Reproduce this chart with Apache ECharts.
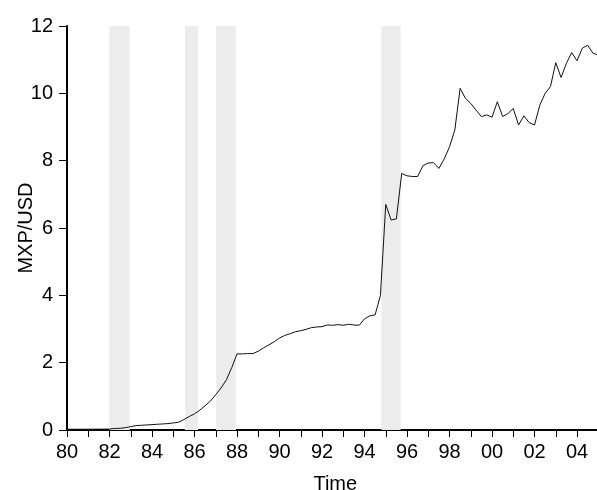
<!DOCTYPE html>
<html>
<head>
<meta charset="utf-8">
<script src="https://cdn.jsdelivr.net/npm/echarts@6/dist/echarts.min.js"></script>
<style>html,body{margin:0;padding:0;background:#fff;}#c{width:597px;height:490px;}</style>
</head>
<body>
<div id="c"></div>
<script>
// Quarterly MXP/USD exchange rate, first observation 1980Q1
var startYear = 1980;
var mxpUsd = [
  0.023, 0.023, 0.023, 0.023,   // 1980
  0.024, 0.024, 0.025, 0.026,   // 1981
  0.027, 0.045, 0.05, 0.07,     // 1982
  0.10, 0.13, 0.14, 0.15,       // 1983
  0.16, 0.17, 0.18, 0.19,       // 1984
  0.21, 0.23, 0.31, 0.40,       // 1985
  0.48, 0.59, 0.72, 0.86,       // 1986
  1.05, 1.25, 1.49, 1.85,       // 1987
  2.26, 2.26, 2.27, 2.27,       // 1988
  2.34, 2.44, 2.53, 2.62,       // 1989
  2.73, 2.81, 2.86, 2.92,       // 1990
  2.95, 2.99, 3.04, 3.06,       // 1991
  3.07, 3.12, 3.11, 3.13,       // 1992
  3.11, 3.14, 3.12, 3.11,       // 1993
  3.30, 3.39, 3.42, 4.00,       // 1994
  6.70, 6.24, 6.27, 7.62,       // 1995
  7.55, 7.53, 7.53, 7.85,       // 1996
  7.93, 7.94, 7.77, 8.05,       // 1997
  8.41, 8.91, 10.15, 9.85,      // 1998
  9.70, 9.50, 9.31, 9.36,       // 1999
  9.29, 9.75, 9.31, 9.40,       // 2000
  9.55, 9.06, 9.33, 9.13,       // 2001
  9.06, 9.65, 10.00, 10.20,     // 2002
  10.91, 10.47, 10.89, 11.21,   // 2003
  10.97, 11.34, 11.43, 11.19,   // 2004
  11.14                         // 2005
];
// shaded periods [start, end] in fractional years
var shadeStart = [1982.0, 1985.55, 1987.02, 1994.8];
var shadeEnd   = [1982.95, 1986.17, 1987.95, 1995.7];
var yTicks = [0, 2, 4, 6, 8, 10, 12];

var points = mxpUsd.map(function (v, i) { return [startYear + i / 4, v]; });
var bands = shadeStart.map(function (s, i) {
  return [{ xAxis: s }, { xAxis: shadeEnd[i] }];
});

var xMin = 1980, xMax = 2005.25;
var pxPerYear = 21.25;
var font = '"Liberation Sans", Arial, sans-serif';

var chart = echarts.init(document.getElementById('c'), null, { renderer: 'canvas' });
chart.setOption({
  animation: false,
  backgroundColor: '#fff',
  grid: { left: 67, top: 26, height: 404, width: (xMax - xMin) * pxPerYear, containLabel: false, outerBoundsMode: 'none' },
  xAxis: [{
    type: 'value', min: xMin, max: xMax, interval: 1,
    name: 'Time', nameLocation: 'middle', nameGap: 44,
    nameTextStyle: { fontFamily: font, fontSize: 20, color: '#000' },
    axisLine: { show: true, onZero: false, lineStyle: { color: '#000', width: 2 } },
    axisTick: { show: true, length: 7, lineStyle: { color: '#000', width: 1 } },
    axisLabel: {
      showMaxLabel: false, margin: 12, fontFamily: font, fontSize: 20, color: '#000',
      formatter: function (v) {
        var y = Math.round(v);
        if (y % 2 !== 0) return '';
        var s = String(y % 100);
        return s.length < 2 ? '0' + s : s;
      }
    },
    splitLine: { show: false }
  }, {
    type: 'value', position: 'top', min: xMin, max: xMax,
    axisLine: { show: true, lineStyle: { color: '#000', width: 2 } },
    axisTick: { show: false }, axisLabel: { show: false }, splitLine: { show: false }
  }],
  yAxis: {
    type: 'value', min: yTicks[0], max: yTicks[yTicks.length - 1], interval: 2,
    name: 'MXP/USD', nameLocation: 'middle', nameGap: 31, nameRotate: 90, nameMoveOverlap: false,
    nameTextStyle: { fontFamily: font, fontSize: 20, color: '#000' },
    axisLine: { show: true, lineStyle: { color: '#000', width: 2 } },
    axisTick: { show: true, length: 8, lineStyle: { color: '#000', width: 1 } },
    axisLabel: { margin: 14, fontFamily: font, fontSize: 20, color: '#000' },
    splitLine: { show: false }
  },
  series: [{
    type: 'line', data: points, showSymbol: false, symbol: 'none',
    lineStyle: { color: '#111', width: 1 },
    markArea: { silent: true, itemStyle: { color: '#ececec' }, data: bands },
    z: 3
  }]
});
</script>
</body>
</html>
